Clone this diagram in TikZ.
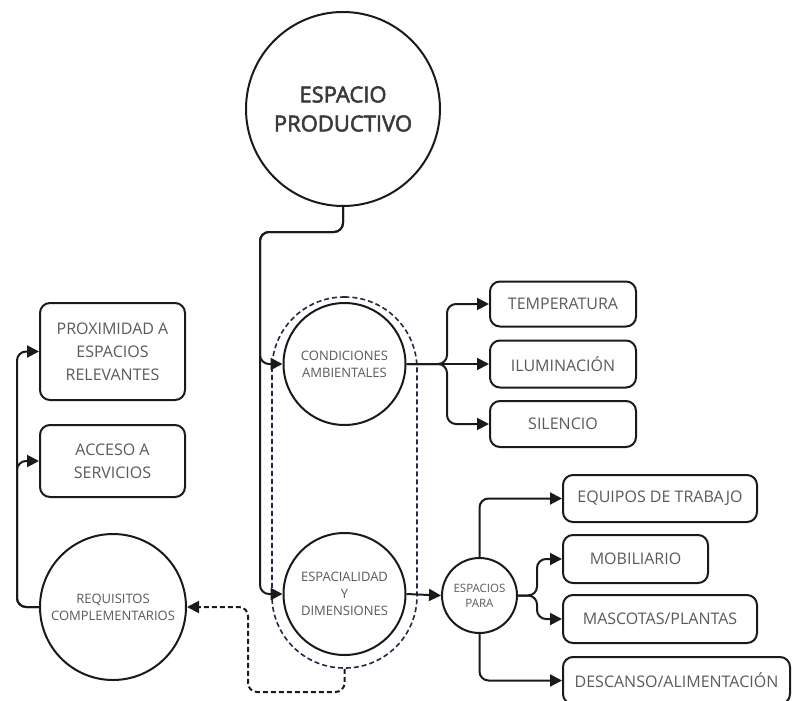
\documentclass[tikz,border=0pt]{standalone}
\usepackage{fontspec}
\setmainfont{Open Sans}
\newfontfamily\titlefont[FakeBold=2.5]{Open Sans}
\usepackage{tikz}
\usetikzlibrary{arrows.meta,positioning}
\definecolor{ink}{HTML}{1A1A1A}
\definecolor{txt}{HTML}{5A5A5A}
\definecolor{titletxt}{HTML}{3A3A3A}
\definecolor{navy}{HTML}{1E2A45}
\tikzset{
  hub/.style={circle, draw=ink, fill=white, line width=2pt, inner sep=0pt, align=center,
              text=txt, font=\fontsize{13}{17}\selectfont},
  titlehub/.style={hub, text=titletxt, font=\titlefont\fontsize{22}{29}\selectfont},
  item/.style={rectangle, rounded corners=10pt, draw=ink, fill=white, line width=2pt,
               align=center, text=txt, inner sep=2pt, font=\fontsize{16}{23}\selectfont},
  grp/.style={rectangle, rounded corners=72pt, draw=navy, line width=1.6pt, dash pattern=on 5pt off 3pt},
  flow/.style={-{Triangle[length=12pt,width=12pt]}, draw=ink, line width=2pt, rounded corners=9pt},
  dflow/.style={flow, dash pattern=on 5pt off 3pt},
}
\begin{document}
\begin{tikzpicture}[x=1pt,y=-1pt]
\useasboundingbox (0,0) rectangle (792,701);
% main circles
\node[titlehub, minimum size=194pt] (prod) at (343,109) {ESPACIO\\PRODUCTIVO};
\node[grp, minimum width=145pt, minimum height=371pt] (zona) at (344.5,482.5) {};
\node[hub, minimum size=122pt] (cond) at (344.5,364) {CONDICIONES\\AMBIENTALES};
\node[hub, minimum size=122pt] (dims) at (344.5,594) {ESPACIALIDAD\\Y\\DIMENSIONES};
\node[hub, minimum size=146pt] (req)  at (113,607)   {REQUISITOS\\COMPLEMENTARIOS};
\node[hub, minimum size=75pt, font=\fontsize{11.5}{15}\selectfont] (para) at (479.5,595.5) {ESPACIOS\\PARA};
% boxes
\node[item, minimum width=145pt, minimum height=97pt] (prox) at (112.5,351.5) {PROXIMIDAD A\\ESPACIOS\\RELEVANTES};
\node[item, minimum width=145pt, minimum height=72pt] (acc)  at (112.5,461)   {ACCESO A\\SERVICIOS};
\node[item, minimum width=146pt, minimum height=45pt] (temp) at (563,304) {TEMPERATURA};
\node[item, minimum width=146pt, minimum height=47pt] (ilum) at (563,364) {ILUMINACIÓN};
\node[item, minimum width=146pt, minimum height=46pt] (sil)  at (563,424) {SILENCIO};
\node[item, minimum width=194pt, minimum height=47pt] (equi) at (660,498.5) {EQUIPOS DE TRABAJO};
\node[item, minimum width=145pt, minimum height=48pt] (mobi) at (635.5,559) {MOBILIARIO};
\node[item, minimum width=194pt, minimum height=48pt] (masc) at (660,619) {MASCOTAS/PLANTAS};
\node[item, minimum width=227pt, minimum height=47pt] (desc) at (676.5,680.5) {DESCANSO/ALIMENTACIÓN};
% junctions
\coordinate (trunk) at (260,232);
\coordinate (cj) at (447,364);
\coordinate (pj) at (537,595.5);
\coordinate (rj) at (17,607);
\coordinate (dj) at (248,692);
% connectors
\draw[flow] (prod.south) |- (trunk) |- (cond.west);
\draw[flow] (prod.south) |- (trunk) |- (dims.west);
\draw[flow] (cond.east) -- (cj) |- (temp.west);
\draw[flow] (cond.east) -- (ilum.west);
\draw[flow] (cond.east) -- (cj) |- (sil.west);
\draw[flow] (dims.east) -- (para.west);
\draw[flow] (para.north) |- (equi.west);
\draw[flow] (para.east) -- (pj) |- (mobi.west);
\draw[flow] (para.east) -- (pj) |- (masc.west);
\draw[flow] (para.south) |- (desc.west);
\draw[flow] (req.west) -- (rj) |- (prox.west);
\draw[flow] (req.west) -- (rj) |- (acc.west);
\draw[dflow] (zona.south) |- (dj) |- (req.east);
\end{tikzpicture}
\end{document}
